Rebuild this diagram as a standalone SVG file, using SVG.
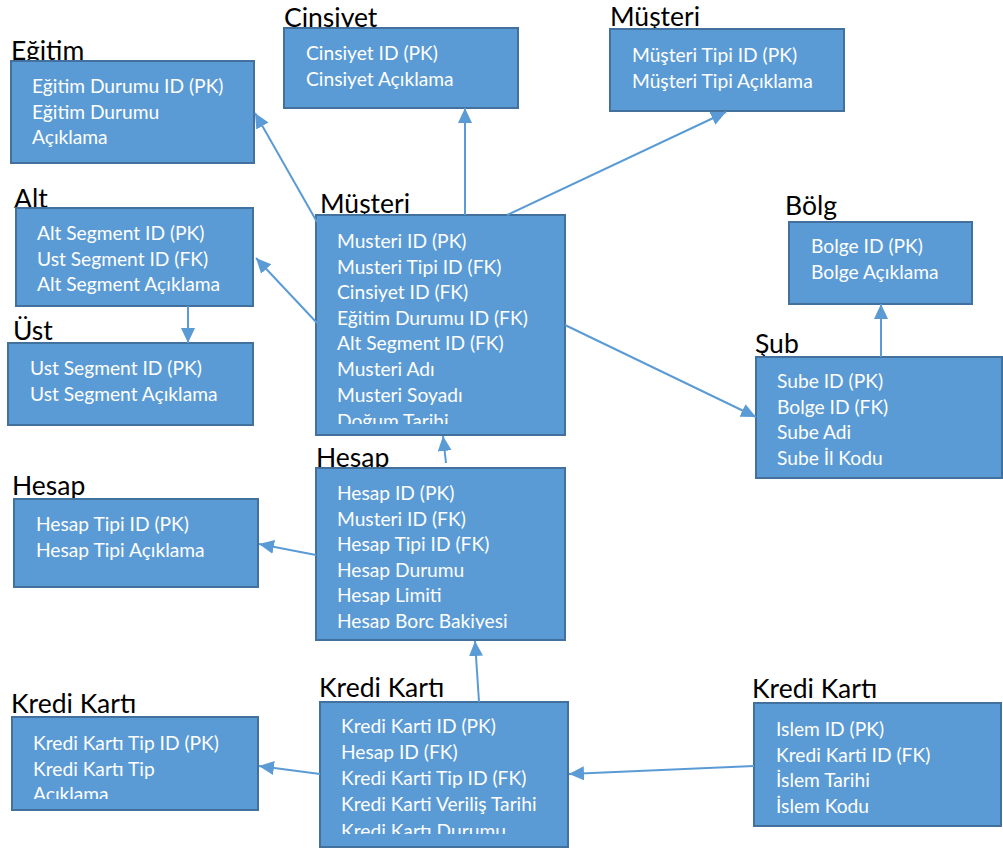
<svg xmlns="http://www.w3.org/2000/svg" width="1003" height="850" viewBox="0 0 1003 850">
  <style>
    .box { fill: #5B9BD5; stroke: #41719C; stroke-width: 2; }
    .title { font-family: Lato, "Liberation Sans", sans-serif; font-size: 26.5px; fill: #000; }
    .field { font-family: Lato, "Liberation Sans", sans-serif; font-size: 19.2px; fill: #fff; }
    .link { stroke: #5B9BD5; stroke-width: 2; fill: none; marker-end: url(#arrow); }
  </style>
  <defs>
    <marker id="arrow" markerUnits="userSpaceOnUse" markerWidth="16" markerHeight="15" refX="15" refY="7" orient="auto">
      <path d="M0,0 L15,7 L0,14 z" fill="#5B9BD5"/>
    </marker>
    <clipPath id="clip-musteri"><rect x="317" y="216" width="247" height="208"/></clipPath>
    <clipPath id="clip-hesap"><rect x="317" y="469" width="247" height="160"/></clipPath>
    <clipPath id="clip-kk-tip"><rect x="13" y="718" width="244" height="81"/></clipPath>
    <clipPath id="clip-kredi"><rect x="321" y="703" width="246" height="131"/></clipPath>
  </defs>
  <rect width="1003" height="850" fill="#fff"/>

  <!-- Eğitim durumu -->
  <g id="egitim">
    <text class="title" x="11" y="60">Eğitim</text>
    <rect class="box" x="11" y="61" width="243" height="102"/>
    <text class="field" x="32" y="93">Eğitim Durumu ID (PK)</text>
    <text class="field" x="32" y="118.6">Eğitim Durumu</text>
    <text class="field" x="32" y="144.2">Açıklama</text>
  </g>

  <!-- Cinsiyet -->
  <g id="cinsiyet">
    <text class="title" x="284" y="27">Cinsiyet</text>
    <rect class="box" x="284" y="28" width="234" height="80"/>
    <text class="field" x="306" y="60">Cinsiyet ID (PK)</text>
    <text class="field" x="306" y="85.6">Cinsiyet Açıklama</text>
  </g>

  <!-- Müşteri tipi -->
  <g id="musteri-tipi">
    <text class="title" x="610" y="26">Müşteri</text>
    <rect class="box" x="610" y="29" width="234" height="82"/>
    <text class="field" x="632" y="62">Müşteri Tipi ID (PK)</text>
    <text class="field" x="632" y="87.6">Müşteri Tipi Açıklama</text>
  </g>

  <!-- Alt segment -->
  <g id="alt-segment">
    <text class="title" x="14" y="208">Alt</text>
    <rect class="box" x="16" y="208" width="237" height="98"/>
    <text class="field" x="37" y="240">Alt Segment ID (PK)</text>
    <text class="field" x="37" y="265.6">Ust Segment ID (FK)</text>
    <text class="field" x="37" y="291.2">Alt Segment Açıklama</text>
  </g>

  <!-- Üst segment -->
  <g id="ust-segment">
    <text class="title" x="13" y="340">Üst</text>
    <rect class="box" x="8" y="343" width="245" height="82"/>
    <text class="field" x="30" y="375">Ust Segment ID (PK)</text>
    <text class="field" x="30" y="400.6">Ust Segment Açıklama</text>
  </g>

  <!-- Müşteri -->
  <g id="musteri">
    <text class="title" x="320" y="213">Müşteri</text>
    <rect class="box" x="316" y="215" width="249" height="220"/>
    <g clip-path="url(#clip-musteri)">
      <text class="field" x="337" y="248">Musteri ID (PK)</text>
      <text class="field" x="337" y="273.6">Musteri Tipi ID (FK)</text>
      <text class="field" x="337" y="299.2">Cinsiyet ID (FK)</text>
      <text class="field" x="337" y="324.8">Eğitim Durumu ID (FK)</text>
      <text class="field" x="337" y="350.4">Alt Segment ID (FK)</text>
      <text class="field" x="337" y="376">Musteri Adı</text>
      <text class="field" x="337" y="401.6">Musteri Soyadı</text>
      <text class="field" x="337" y="428.2">Doğum Tarihi</text>
    </g>
  </g>

  <!-- Bölge -->
  <g id="bolge">
    <text class="title" x="785" y="215">Bölg</text>
    <rect class="box" x="789" y="222" width="183" height="82"/>
    <text class="field" x="811" y="253">Bolge ID (PK)</text>
    <text class="field" x="811" y="278.6">Bolge Açıklama</text>
  </g>

  <!-- Şube -->
  <g id="sube">
    <text class="title" x="755" y="353">Şub</text>
    <rect class="box" x="756" y="357" width="246" height="121"/>
    <text class="field" x="777" y="388">Sube ID (PK)</text>
    <text class="field" x="777" y="413.6">Bolge ID (FK)</text>
    <text class="field" x="777" y="439.2">Sube Adi</text>
    <text class="field" x="777" y="464.8">Sube İl Kodu</text>
  </g>

  <!-- Hesap tipi -->
  <g id="hesap-tipi">
    <text class="title" x="12" y="495">Hesap</text>
    <rect class="box" x="14" y="499" width="244" height="88"/>
    <text class="field" x="36" y="531">Hesap Tipi ID (PK)</text>
    <text class="field" x="36" y="556.6">Hesap Tipi Açıklama</text>
  </g>

  <!-- Hesap -->
  <g id="hesap">
    <text class="title" x="316" y="467">Hesap</text>
    <rect class="box" x="316" y="468" width="249" height="172"/>
    <g clip-path="url(#clip-hesap)">
      <text class="field" x="337" y="500">Hesap ID (PK)</text>
      <text class="field" x="337" y="525.6">Musteri ID (FK)</text>
      <text class="field" x="337" y="551.2">Hesap Tipi ID (FK)</text>
      <text class="field" x="337" y="576.8">Hesap Durumu</text>
      <text class="field" x="337" y="602.4">Hesap Limiti</text>
      <text class="field" x="337" y="628">Hesap Borc Bakiyesi</text>
    </g>
  </g>

  <!-- Kredi kartı tipi -->
  <g id="kredi-karti-tipi">
    <text class="title" x="11" y="713">Kredi Kartı</text>
    <rect class="box" x="12" y="717" width="246" height="93"/>
    <g clip-path="url(#clip-kk-tip)">
      <text class="field" x="33" y="750">Kredi Kartı Tip ID (PK)</text>
      <text class="field" x="33" y="775.6">Kredi Kartı Tip</text>
      <text class="field" x="33" y="801.2">Açıklama</text>
    </g>
  </g>

  <!-- Kredi kartı -->
  <g id="kredi-karti">
    <text class="title" x="319" y="697">Kredi Kartı</text>
    <rect class="box" x="320" y="702" width="248" height="145"/>
    <g clip-path="url(#clip-kredi)">
      <text class="field" x="341" y="733">Kredi Karti ID (PK)</text>
      <text class="field" x="341" y="759">Hesap ID (FK)</text>
      <text class="field" x="341" y="785">Kredi Karti Tip ID (FK)</text>
      <text class="field" x="341" y="811">Kredi Karti Veriliş Tarihi</text>
      <text class="field" x="341" y="837.5">Kredi Kartı Durumu</text>
    </g>
  </g>

  <!-- Kredi kartı işlem -->
  <g id="kredi-karti-islem">
    <text class="title" x="752" y="698">Kredi Kartı</text>
    <rect class="box" x="754" y="703" width="247" height="123"/>
    <text class="field" x="776" y="736">Islem ID (PK)</text>
    <text class="field" x="776" y="761.6">Kredi Karti ID (FK)</text>
    <text class="field" x="776" y="787.2">İslem Tarihi</text>
    <text class="field" x="776" y="812.8">İslem Kodu</text>
  </g>

  <!-- Foreign key links -->
  <g id="connectors">
    <line class="link" x1="317" y1="222" x2="255" y2="113"/>
    <line class="link" x1="465" y1="215" x2="465" y2="108"/>
    <line class="link" x1="507" y1="215" x2="726" y2="112"/>
    <line class="link" x1="317" y1="323" x2="256" y2="258"/>
    <line class="link" x1="565" y1="325" x2="756" y2="417"/>
    <line class="link" x1="188" y1="306" x2="188" y2="343"/>
    <line class="link" x1="881" y1="357" x2="881" y2="304"/>
    <line class="link" x1="446" y1="463" x2="443" y2="436"/>
    <line class="link" x1="316" y1="555" x2="259" y2="544"/>
    <line class="link" x1="479" y1="702" x2="475" y2="641"/>
    <line class="link" x1="320" y1="774" x2="259" y2="766"/>
    <line class="link" x1="754" y1="766" x2="569" y2="774"/>
  </g>
</svg>
